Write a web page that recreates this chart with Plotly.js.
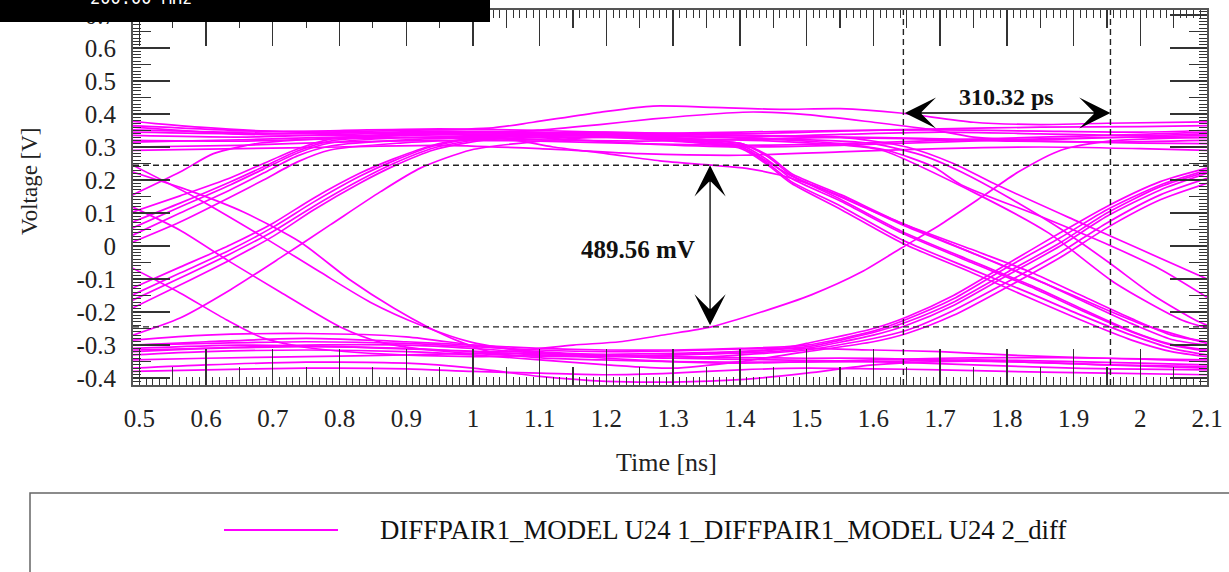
<!DOCTYPE html>
<html><head><meta charset="utf-8">
<script src="https://cdn.plot.ly/plotly-3.0.1.min.js"></script>
<style>html,body{margin:0;padding:0;background:#fff;} #chart{width:1229px;height:572px;}</style>
</head><body><div id="chart"></div>
<script>
// ---------- data (time in ns, voltage in V) ----------
const seriesName = 'DIFFPAIR1_MODEL U24 1_DIFFPAIR1_MODEL U24 2_diff';
const headerText = '200.00 MHz';
const eyeTop = 0.24478, eyeBottom = -0.24478;      // eye-height markers (V)
const eyeLeft = 1.645, eyeWidth = 0.31032;         // eye-width markers (ns)
const heightMarkerT = 1.3553;                      // where the height arrow is drawn
const widthMarkerV = 0.403;                        // where the width arrow is drawn
const yTickVals = [-0.4,-0.3,-0.2,-0.1,0,0.1,0.2,0.3,0.4,0.5,0.6,0.7];
const yTickText = ['-0.4','-0.3','-0.2','-0.1','0','0.1','0.2','0.3','0.4','0.5','0.6','0.7'];

// traces staying high (some fall late on the right)
const steadyHigh = [
 [[0.49,0.59,0.74,0.89,1.03,1.09,1.19,1.27,1.36,1.46,1.55,1.64,1.75,1.85,1.95,2.1],
  [0.378,0.36,0.345,0.35,0.358,0.375,0.405,0.424,0.42,0.414,0.416,0.403,0.375,0.368,0.372,0.376]],
 [[0.49,0.64,0.8,0.95,1.09,1.19,1.27,1.36,1.42,1.5,1.6,1.69,1.75,1.85,1.95,2.1],
  [0.36,0.34,0.335,0.34,0.35,0.368,0.385,0.4,0.406,0.398,0.375,0.352,0.33,0.322,0.328,0.335]],
 [[0.49,0.65,0.8,0.95,1.1,1.25,1.4,1.55,1.7,1.85,2.0,2.1],
  [0.335,0.33,0.338,0.345,0.34,0.332,0.33,0.338,0.345,0.34,0.335,0.34]],
 [[0.49,0.65,0.8,0.95,1.1,1.25,1.4,1.55,1.7,1.85,2.0,2.1],
  [0.315,0.322,0.33,0.328,0.322,0.318,0.322,0.33,0.325,0.318,0.312,0.31]],
 [[0.49,0.65,0.8,0.95,1.1,1.25,1.4,1.55,1.7,1.85,2.0,2.1],
  [0.30,0.305,0.315,0.32,0.318,0.31,0.305,0.31,0.32,0.33,0.338,0.345]],
 [[0.49,0.65,0.8,0.95,1.1,1.25,1.4,1.55,1.7,1.85,2.0,2.1],
  [0.352,0.345,0.35,0.355,0.35,0.342,0.34,0.348,0.355,0.36,0.362,0.365]],
 [[0.49,0.65,0.8,0.95,1.1,1.25,1.4,1.55,1.7,1.85,2.0,2.1],
  [0.29,0.295,0.3,0.305,0.295,0.28,0.275,0.285,0.295,0.3,0.295,0.29]],
 [[0.49,0.65,0.8,0.95,1.1,1.25,1.4,1.55,1.7,1.85,2.0,2.1],
  [0.365,0.35,0.345,0.338,0.328,0.31,0.3,0.305,0.315,0.325,0.33,0.328]],
 [[0.49,0.65,0.8,0.95,1.1,1.25,1.35,1.402,1.442,1.477,1.552,1.642,1.747,1.837,1.912,1.987,2.047,2.1],
  [0.32,0.318,0.325,0.33,0.335,0.33,0.322,0.31,0.275,0.22,0.155,0.07,-0.01,-0.08,-0.15,-0.22,-0.27,-0.29]],
 [[0.49,0.65,0.8,0.95,1.1,1.25,1.4,1.55,1.65,1.72,1.78,1.9,2.0,2.1],
  [0.345,0.34,0.342,0.348,0.345,0.338,0.335,0.33,0.3,0.25,0.19,0.08,-0.01,-0.1]]
];

// rising edges on the left, early group
const earlyRise = [
 [[0.49,0.561,0.636,0.686,0.737,0.786,0.891,1.0,1.15,1.3,1.45,1.552,1.612,1.752,1.863,1.962,2.062,2.1],
  [0.012,0.073,0.148,0.2,0.255,0.291,0.312,0.322,0.33,0.325,0.318,0.306,0.291,0.161,0.039,-0.112,-0.224,-0.248]],
 [[0.49,0.561,0.636,0.686,0.737,0.786,0.891,1.042,1.12,1.2,1.28,1.357,1.41,1.46,1.52,1.6,1.7,1.8,1.9,2.0,2.1],
  [0.033,0.1,0.17,0.221,0.273,0.303,0.321,0.327,0.3,0.28,0.258,0.245,0.235,0.215,0.175,0.105,0.02,-0.065,-0.15,-0.235,-0.295]],
 [[0.49,0.561,0.636,0.686,0.737,0.786,0.891,1.042,1.15,1.25,1.33,1.402,1.442,1.477,1.552,1.642,1.747,1.837,1.912,1.987,2.047,2.1],
  [0.055,0.118,0.185,0.233,0.282,0.312,0.328,0.333,0.335,0.325,0.315,0.3,0.255,0.212,0.15,0.065,-0.02,-0.095,-0.165,-0.235,-0.283,-0.30]],
 [[0.49,0.561,0.636,0.686,0.737,0.786,0.891,1.042,1.2,1.35,1.5,1.65,1.8,1.95,2.1],
  [0.073,0.13,0.194,0.24,0.288,0.318,0.335,0.34,0.345,0.338,0.33,0.325,0.318,0.315,0.32]],
 [[0.49,0.561,0.636,0.686,0.737,0.786,0.891,1.042,1.15,1.25,1.33,1.402,1.442,1.477,1.552,1.642,1.747,1.837,1.912,1.987,2.047,2.1],
  [0.103,0.152,0.206,0.25,0.294,0.324,0.34,0.345,0.34,0.33,0.318,0.305,0.26,0.205,0.135,0.04,-0.05,-0.125,-0.195,-0.26,-0.3,-0.318]],
 [[0.49,0.561,0.611,0.681,0.786,0.9,1.05,1.2,1.35,1.5,1.55,1.62,1.69,1.732,1.85,1.953,2.03,2.1],
  [0.155,0.224,0.28,0.312,0.327,0.335,0.34,0.338,0.33,0.318,0.31,0.29,0.24,0.185,0.09,0.003,-0.07,-0.155]]
];

// rising edges on the left, late group
const lateRise = [
 [[0.49,0.561,0.636,0.701,0.761,0.831,0.881,0.941,1.016,1.132,1.25,1.4,1.55,1.7,1.85,2.0,2.1],
  [-0.188,-0.118,-0.042,0.03,0.109,0.191,0.242,0.291,0.321,0.333,0.34,0.345,0.35,0.352,0.348,0.345,0.35]],
 [[0.49,0.561,0.636,0.701,0.761,0.831,0.881,0.941,1.016,1.132,1.25,1.33,1.402,1.442,1.477,1.552,1.642,1.747,1.837,1.912,1.987,2.047,2.1],
  [-0.164,-0.097,-0.024,0.045,0.12,0.2,0.25,0.297,0.325,0.336,0.33,0.32,0.31,0.27,0.215,0.14,0.045,-0.045,-0.12,-0.19,-0.258,-0.298,-0.315]],
 [[0.49,0.561,0.636,0.701,0.761,0.831,0.881,0.941,1.016,1.132,1.25,1.33,1.402,1.442,1.477,1.552,1.642,1.747,1.837,1.912,1.987,2.047,2.1],
  [-0.148,-0.082,-0.012,0.058,0.133,0.212,0.258,0.303,0.33,0.34,0.335,0.322,0.3,0.25,0.195,0.12,0.02,-0.07,-0.145,-0.21,-0.27,-0.31,-0.33]],
 [[0.49,0.561,0.636,0.701,0.761,0.831,0.881,0.941,1.016,1.132,1.3,1.45,1.6,1.68,1.732,1.8,1.882,1.953,2.02,2.083,2.1],
  [-0.127,-0.064,0.003,0.07,0.145,0.221,0.264,0.306,0.332,0.342,0.335,0.325,0.31,0.27,0.224,0.15,0.05,-0.05,-0.15,-0.225,-0.24]],
 [[0.49,0.561,0.636,0.711,0.786,0.861,0.921,0.997,1.087,1.2,1.3,1.402,1.442,1.477,1.552,1.642,1.747,1.837,1.912,1.987,2.047,2.1],
  [-0.27,-0.218,-0.133,-0.036,0.064,0.164,0.236,0.291,0.315,0.33,0.318,0.295,0.245,0.19,0.11,0.01,-0.08,-0.16,-0.225,-0.285,-0.32,-0.335]]
];

// falling edges on the left
const earlyFall = [
 [[0.49,0.576,0.656,0.741,0.816,0.881,0.932,0.982,1.027,1.102,1.192,1.3,1.45,1.6,1.75,1.9,2.0,2.1],
  [0.224,0.167,0.103,0.012,-0.103,-0.188,-0.245,-0.291,-0.321,-0.339,-0.345,-0.35,-0.352,-0.35,-0.345,-0.35,-0.355,-0.36]],
 [[0.49,0.561,0.636,0.711,0.801,0.861,0.936,1.042,1.15,1.3,1.45,1.5,1.6,1.65,1.72,1.8,1.88,1.95,2.03,2.1],
  [0.118,0.048,-0.048,-0.139,-0.245,-0.291,-0.315,-0.33,-0.335,-0.33,-0.32,-0.31,-0.27,-0.24,-0.18,-0.09,0.0,0.09,0.17,0.22]],
 [[0.49,0.561,0.631,0.686,0.756,0.861,1.0,1.15,1.3,1.45,1.5,1.6,1.65,1.72,1.8,1.88,1.95,2.03,2.1],
  [-0.067,-0.142,-0.224,-0.279,-0.309,-0.327,-0.335,-0.33,-0.325,-0.315,-0.295,-0.25,-0.215,-0.15,-0.055,0.04,0.12,0.195,0.236]],
 [[0.49,0.586,0.681,0.771,0.846,0.921,0.997,1.087,1.192,1.3,1.45,1.6,1.75,1.9,2.1],
  [0.245,0.145,0.033,-0.079,-0.17,-0.239,-0.291,-0.321,-0.333,-0.34,-0.345,-0.35,-0.36,-0.37,-0.375]]
];

// traces staying low (some rise on the right)
const steadyLow = [
 [[0.49,0.6,0.75,0.9,1.0,1.1,1.2,1.3,1.4,1.5,1.6,1.7,1.8,1.95,2.1],
  [-0.37,-0.36,-0.352,-0.355,-0.37,-0.395,-0.41,-0.412,-0.405,-0.385,-0.36,-0.35,-0.35,-0.36,-0.365]],
 [[0.49,0.6,0.75,0.9,1.0,1.1,1.2,1.3,1.4,1.5,1.6,1.7,1.8,1.95,2.1],
  [-0.30,-0.295,-0.29,-0.295,-0.305,-0.315,-0.32,-0.318,-0.312,-0.31,-0.315,-0.32,-0.33,-0.34,-0.345]],
 [[0.49,0.6,0.75,0.9,1.0,1.1,1.2,1.3,1.4,1.5,1.6,1.7,1.8,1.95,2.1],
  [-0.285,-0.27,-0.265,-0.275,-0.3,-0.32,-0.33,-0.335,-0.338,-0.34,-0.34,-0.345,-0.35,-0.36,-0.37]],
 [[0.49,0.6,0.75,0.9,1.0,1.1,1.2,1.3,1.4,1.5,1.6,1.7,1.8,1.95,2.1],
  [-0.38,-0.375,-0.37,-0.372,-0.38,-0.385,-0.39,-0.385,-0.375,-0.37,-0.372,-0.375,-0.38,-0.385,-0.39]],
 [[0.49,0.6,0.75,0.9,1.0,1.1,1.2,1.3,1.4,1.5,1.6,1.7,1.8,1.95,2.1],
  [-0.32,-0.31,-0.3,-0.3,-0.31,-0.325,-0.34,-0.35,-0.355,-0.35,-0.345,-0.34,-0.338,-0.34,-0.35]],
 [[0.49,0.6,0.75,0.9,1.0,1.1,1.2,1.3,1.4,1.5,1.6,1.65,1.72,1.8,1.88,1.95,2.03,2.1],
  [-0.33,-0.32,-0.315,-0.32,-0.33,-0.345,-0.36,-0.37,-0.35,-0.32,-0.29,-0.265,-0.21,-0.125,-0.035,0.055,0.14,0.19]],
 [[0.49,0.6,0.75,0.9,1.0,1.1,1.2,1.3,1.4,1.5,1.6,1.65,1.72,1.8,1.88,1.95,2.03,2.1],
  [-0.315,-0.31,-0.305,-0.31,-0.32,-0.33,-0.335,-0.33,-0.32,-0.305,-0.262,-0.23,-0.17,-0.08,0.01,0.1,0.18,0.225]],
 [[0.49,0.6,0.75,0.9,1.0,1.1,1.2,1.3,1.4,1.5,1.6,1.65,1.72,1.8,1.88,1.95,2.03,2.1],
  [-0.345,-0.34,-0.335,-0.33,-0.325,-0.325,-0.33,-0.34,-0.33,-0.315,-0.28,-0.255,-0.195,-0.11,-0.02,0.07,0.155,0.205]],
 [[0.49,0.6,0.75,0.9,1.0,1.1,1.2,1.3,1.4,1.5,1.6,1.65,1.72,1.8,1.88,1.95,2.03,2.1],
  [-0.3,-0.29,-0.28,-0.29,-0.3,-0.31,-0.315,-0.315,-0.31,-0.3,-0.258,-0.222,-0.16,-0.065,0.025,0.11,0.185,0.23]]
];

// slow rise that touches the lower eye limit
const slowRise = [
 [[0.49,0.65,0.8,0.95,1.05,1.15,1.22,1.29,1.357,1.432,1.507,1.582,1.642,1.702,1.762,1.817,1.882,1.953,2.1],
  [-0.31,-0.3,-0.305,-0.315,-0.32,-0.3,-0.29,-0.268,-0.245,-0.2,-0.148,-0.079,-0.006,0.067,0.148,0.224,0.291,0.318,0.33]]
];

// ---------- build ----------
const MAG = '#ff00ff';
const FONT = 'Liberation Serif, Times New Roman, serif';
const data = [];
[steadyHigh, earlyRise, lateRise, earlyFall, steadyLow, slowRise].forEach(fam => {
  fam.forEach(([t, v]) => data.push({
    type: 'scatter', mode: 'lines', x: t, y: v, name: seriesName,
    line: {color: MAG, width: 1.7, shape: 'spline', smoothing: 0.7},
    showlegend: false, hoverinfo: 'skip'
  }));
});
// carriers for the fine tick axes
data.push({type:'scatter', mode:'lines', x:[], y:[], xaxis:'x2', yaxis:'y', showlegend:false, hoverinfo:'skip'});
data.push({type:'scatter', mode:'lines', x:[], y:[], xaxis:'x', yaxis:'y2', showlegend:false, hoverinfo:'skip'});

const xRange = [0.4905, 2.1], yRange = [-0.421, 0.715];
const L = 133, R = 1207, T = 10, B = 385;             // plot-area pixels
const px = p => (p - L) / (R - L);
const py = p => (B - p) / (B - T);

const tickCol = '#333';
const layout = {
  width: 1229, height: 572,
  margin: {l: L, r: 1229 - R, t: T, b: 572 - B, pad: 0},
  paper_bgcolor: '#fff', plot_bgcolor: '#fff',
  showlegend: false,
  font: {family: FONT, color: '#222'},
  xaxis: {
    range: xRange, tickmode: 'linear', tick0: 0.5, dtick: 0.1,
    ticks: 'inside', ticklen: 36, tickwidth: 1.4, tickcolor: tickCol,
    showline: true, linecolor: '#555', linewidth: 2, mirror: 'ticks',
    showgrid: false, zeroline: false, ticklabelstandoff: 10,
    tickfont: {family: FONT, size: 25, color: '#222'},
    minor: {tickmode: 'linear', tick0: 0.5, dtick: 0.05, ticks: 'inside', ticklen: 18, tickwidth: 1.2, tickcolor: tickCol, showgrid: false}
  },
  xaxis2: {
    overlaying: 'x', anchor: 'y', side: 'bottom', range: xRange,
    tickmode: 'linear', tick0: 0.5, dtick: 0.01, ticks: 'inside', ticklen: 8, tickwidth: 1, tickcolor: tickCol,
    showticklabels: false, showline: false, mirror: 'ticks', showgrid: false, zeroline: false
  },
  yaxis: {
    range: yRange, tickmode: 'array', tickvals: yTickVals, ticktext: yTickText,
    ticks: 'inside', ticklen: 37, tickwidth: 1.4, tickcolor: tickCol,
    showline: true, linecolor: '#555', linewidth: 2, mirror: 'ticks',
    showgrid: false, zeroline: false, ticklabelstandoff: 10,
    tickfont: {family: FONT, size: 25, color: '#222'},
    minor: {tickmode: 'linear', tick0: 0, dtick: 0.05, ticks: 'inside', ticklen: 18, tickwidth: 1.2, tickcolor: tickCol, showgrid: false}
  },
  yaxis2: {
    overlaying: 'y', anchor: 'x', side: 'left', range: yRange,
    tickmode: 'linear', tick0: 0, dtick: 0.01, ticks: 'inside', ticklen: 8, tickwidth: 1, tickcolor: tickCol,
    showticklabels: false, showline: false, mirror: 'ticks', showgrid: false, zeroline: false
  },
  shapes: [
    // eye limits
    {type:'line', xref:'paper', yref:'y', x0:0, x1:1, y0:eyeTop, y1:eyeTop, line:{color:'#222', width:1.4, dash:'6px,4px'}},
    {type:'line', xref:'paper', yref:'y', x0:0, x1:1, y0:eyeBottom, y1:eyeBottom, line:{color:'#222', width:1.4, dash:'6px,4px'}},
    {type:'line', xref:'x', yref:'paper', x0:eyeLeft, x1:eyeLeft, y0:0, y1:1, line:{color:'#222', width:1.4, dash:'6px,4px'}},
    {type:'line', xref:'x', yref:'paper', x0:eyeLeft+eyeWidth, x1:eyeLeft+eyeWidth, y0:0, y1:1, line:{color:'#222', width:1.4, dash:'6px,4px'}},
    // header bar
    {type:'rect', xref:'paper', yref:'paper', x0:px(0), x1:px(490), y0:py(22), y1:py(-5), fillcolor:'#000', line:{width:0}, layer:'above'},
    // legend frame and sample
    {type:'rect', xref:'paper', yref:'paper', x0:px(30), x1:px(1240), y0:py(493), y1:py(600), fillcolor:'rgba(0,0,0,0)', line:{color:'#666', width:1.5}},
    {type:'line', xref:'paper', yref:'paper', x0:px(224), x1:px(338), y0:py(530), y1:py(530), line:{color:MAG, width:2}}
  ],
  annotations: [
    {xref:'x', yref:'y', x:eyeLeft+eyeWidth, y:widthMarkerV, axref:'x', ayref:'y', ax:eyeLeft, ay:widthMarkerV,
     text:'', showarrow:true, arrowside:'end+start', arrowhead:3, startarrowhead:3, arrowsize:4, startarrowsize:4,
     arrowwidth:1.3, arrowcolor:'#000', standoff:0, startstandoff:0},
    {xref:'x', yref:'y', x:heightMarkerT, y:eyeTop, axref:'x', ayref:'y', ax:heightMarkerT, ay:eyeBottom,
     text:'', showarrow:true, arrowside:'end+start', arrowhead:3, startarrowhead:3, arrowsize:4, startarrowsize:4,
     arrowwidth:1.3, arrowcolor:'#000', standoff:0, startstandoff:0},
    {xref:'x', yref:'y', x:eyeLeft+eyeWidth/2, y:0.4515, text:'<b>'+(eyeWidth*1000).toFixed(2)+' ps</b>', showarrow:false,
     font:{family:FONT, size:24, color:'#111'}, xanchor:'center', yanchor:'middle'},
    {xref:'x', yref:'y', x:1.336, y:-0.012, text:'<b>'+((eyeTop-eyeBottom)*1000).toFixed(2)+' mV</b>', showarrow:false,
     font:{family:FONT, size:25, color:'#111'}, xanchor:'right', yanchor:'middle'},
    {xref:'paper', yref:'paper', x:px(30), y:py(181), text:'Voltage [V]', textangle:-90, showarrow:false,
     font:{family:FONT, size:23, color:'#222'}, xanchor:'center', yanchor:'middle'},
    {xref:'paper', yref:'paper', x:px(666), y:py(462), text:'Time [ns]', showarrow:false,
     font:{family:FONT, size:26, color:'#222'}, xanchor:'center', yanchor:'middle'},
    {xref:'paper', yref:'paper', x:px(378), y:py(530), text:seriesName, showarrow:false,
     font:{family:FONT, size:26.8, color:'#111'}, xanchor:'left', yanchor:'middle'},
    {xref:'paper', yref:'paper', x:px(88), y:py(-2), text:headerText, showarrow:false,
     font:{family:'DejaVu Sans Mono, monospace', size:17, color:'#fff'}, xanchor:'left', yanchor:'middle'}
  ]
};
Plotly.newPlot('chart', data, layout, {staticPlot: true, displayModeBar: false});
</script></body></html>
